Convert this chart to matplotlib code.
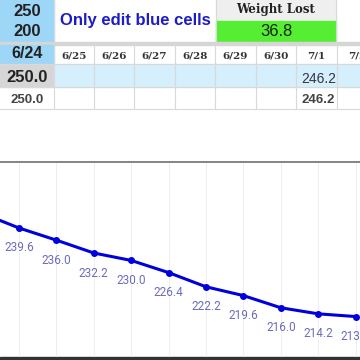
import matplotlib.pyplot as plt
from matplotlib.patches import Rectangle

# table data
goal_top = '250'
goal_bottom = '200'
dates = ['6/24', '6/25', '6/26', '6/27', '6/28', '6/29', '6/30', '7/1', '7/2']
entered = {0: '250.0', 7: '246.2'}
smoothed = {0: '250.0', 7: '246.2'}
weight_lost = '36.8'

# chart data (first point sits off the left edge)
chart_idx = [-1, 0, 1, 2, 3, 4, 5, 6, 7, 8, 9]
chart_values = [244.0, 239.6, 236.0, 232.2, 230.0, 226.4, 222.2, 219.6, 216.0, 214.2, 213.4]

fig = plt.figure(figsize=(3.6, 3.6), dpi=100)
bg = fig.add_axes([0, 0, 1, 1])
bg.set_xlim(0, 360)
bg.set_ylim(360, 0)
bg.axis('off')

blue = '#9dd6f6'
light_blue = '#d5effc'
grid = '#d9d9d9'

# column edges
col_w = 40.45
edges = [0, 53.5] + [53.5 + col_w * (i + 1) for i in range(8)]

# row 1
bg.add_patch(Rectangle((0, 0), 53.5, 42, color=blue))
bg.text(27, 11, goal_top, ha='center', va='center', fontsize=12,
        fontweight='bold', color='#222222', family='Liberation Sans')
bg.text(27, 31, goal_bottom, ha='center', va='center', fontsize=12,
        fontweight='bold', color='#222222', family='Liberation Sans')
bg.text(60, 21, 'Only edit blue cells', ha='left', va='center', fontsize=12,
        fontweight='bold', color='#1c1cc8', family='Liberation Sans')
bg.add_patch(Rectangle((216, 0), 120, 20.5, color='#efefef'))
bg.add_patch(Rectangle((216, 20.5), 120, 20.5, color='#55ee33'))
bg.text(276, 10, 'Weight Lost', ha='center', va='center', fontsize=8.5,
        fontweight='bold', color='#222222', family='DejaVu Serif')
bg.text(276, 31, weight_lost, ha='center', va='center', fontsize=12,
        color='#112211', family='Liberation Sans')
for x in [53.5, 216, 336]:
    bg.plot([x, x], [0, 42], color=grid, lw=0.8)

# separator band
bg.add_patch(Rectangle((0, 41.5), 360, 3.5, color='#d6d6d6'))

# row 2: dates
bg.add_patch(Rectangle((0, 45), 53.5, 18, color=blue))
for i, d in enumerate(dates):
    cx = (edges[i] + edges[i + 1]) / 2
    if i == 0:
        bg.text(cx, 54, d, ha='center', va='center', fontsize=11.5,
                fontweight='bold', color='#222222', family='Liberation Sans')
    else:
        bg.text(cx, 56, d, ha='center', va='center', fontsize=7.5,
                fontweight='bold', color='#333333', family='DejaVu Serif')

# row 3: entered weights
bg.add_patch(Rectangle((0, 64), 53.5, 22.5, color='#d6d6d6'))
bg.add_patch(Rectangle((53.5, 64), 310, 22.5, color=light_blue))
for i, v in entered.items():
    cx = (edges[i] + edges[i + 1]) / 2
    if i == 0:
        bg.text(cx, 77, v, ha='center', va='center', fontsize=12,
                fontweight='bold', color='#222222', family='Liberation Sans')
    else:
        bg.text(cx + 2, 79, v, ha='center', va='center', fontsize=10,
                color='#333344', family='Liberation Sans')

# row 4: smoothed weights
for i, v in smoothed.items():
    cx = (edges[i] + edges[i + 1]) / 2
    bg.text(cx + (2 if i else 0), 100, v, ha='center', va='center', fontsize=9.5,
            fontweight='bold', color='#444444', family='Liberation Sans')

for y in [63.5, 86.5, 108.5]:
    bg.plot([0, 360], [y, y], color=grid, lw=0.8)
for x in edges[1:]:
    bg.plot([x, x], [45, 108.5], color=grid, lw=0.8)

# gray divider and bottom edge
bg.plot([0, 360], [162, 162], color='#707070', lw=1.2)
bg.add_patch(Rectangle((0, 357), 360, 3, color='#333333'))

# line chart
ax = fig.add_axes([0, 3 / 360, 1, 194 / 360])
ax.patch.set_alpha(0)
ax.set_xlim(-19 / 37.4, (360 - 19) / 37.4)
ax.set_ylim(201.43, 258.83)
ax.axis('off')
for i in chart_idx[1:]:
    ax.axvline(i, color='#eeeeee', lw=0.7, zorder=0)
ax.plot(chart_idx, chart_values, color='#0000dd', lw=2.2, marker='o',
        markersize=4, zorder=3)
for i, v in zip(chart_idx, chart_values):
    ax.annotate(f'{v:.1f}', (i, v), xytext=(0, -20), textcoords='offset pixels',
                ha='center', va='center', fontsize=8.5, color='#6b6bbf',
                family='Roboto')

fig.savefig('out.png', dpi=100)
